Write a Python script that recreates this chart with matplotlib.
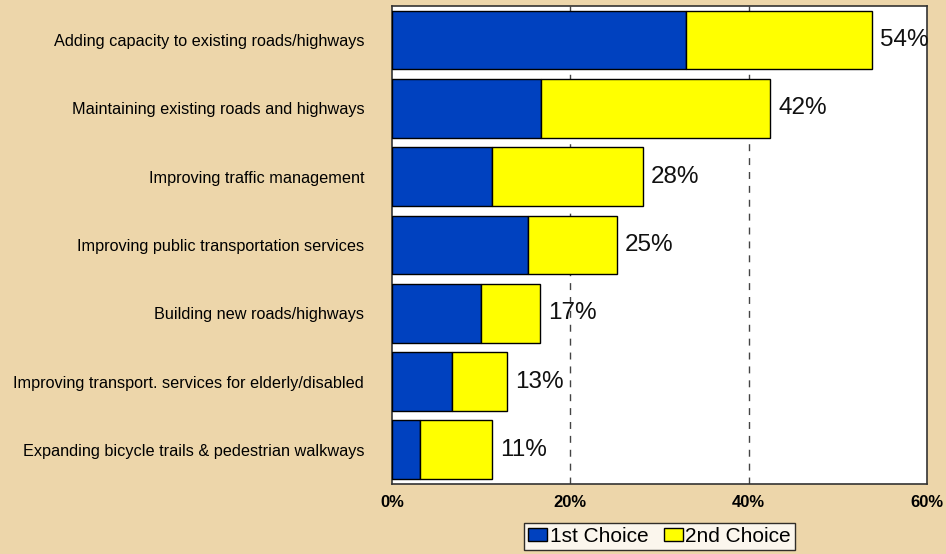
import matplotlib
matplotlib.use("Agg")
import matplotlib.pyplot as plt
from matplotlib.ticker import FuncFormatter

categories = [
    "Adding capacity to existing roads/highways",
    "Maintaining existing roads and highways",
    "Improving traffic management",
    "Improving public transportation services",
    "Building new roads/highways",
    "Improving transport. services for elderly/disabled",
    "Expanding bicycle trails & pedestrian walkways",
]
first_choice = [33.0, 16.7, 11.2, 15.3, 10.0, 6.7, 3.1]
second_choice = [20.8, 25.7, 16.9, 9.9, 6.6, 6.2, 8.1]
x_ticks = [0, 20, 40, 60]

plt.rcParams["font.family"] = ["Liberation Sans", "DejaVu Sans"]

bg = "#EDD6AA"
fig = plt.figure(figsize=(9.46, 5.54), dpi=100, facecolor=bg)
ax = fig.add_axes([0.4144, 0.1264, 0.5655, 0.8628])
ax.set_facecolor("white")

y = list(range(len(categories)))
ax.barh(y, first_choice, height=0.86, color="#0041BF", edgecolor="black",
        linewidth=1, label="1st Choice", zorder=3)
ax.barh(y, second_choice, left=first_choice, height=0.86, color="#FFFF00",
        edgecolor="black", linewidth=1, label="2nd Choice", zorder=3)

for yi, a, b in zip(y, first_choice, second_choice):
    ax.text(a + b + 0.9, yi, f"{a + b:.0f}%", va="center", ha="left",
            fontsize=17.5, color="#111111", zorder=5, clip_on=False)

ax.set_xlim(0, 60)
ax.set_ylim(len(categories) - 0.5, -0.5)
ax.set_xticks(x_ticks)
ax.xaxis.set_major_formatter(FuncFormatter(lambda v, p: f"{v:.0f}%"))
ax.set_yticks(y, categories)
for lbl in ax.get_xticklabels():
    lbl.set_fontweight("bold")
ax.tick_params(axis="x", length=0, pad=8, labelsize=12)
ax.tick_params(axis="y", length=0, pad=20, labelsize=11.7)

for xv in x_ticks[1:-1]:
    ax.axvline(xv, color="#444444", linestyle=(0, (5, 5)), linewidth=1, zorder=1)

for s in ax.spines.values():
    s.set_color("#333333")
    s.set_linewidth(1.2)

leg = ax.legend(loc="upper center", bbox_to_anchor=(0.5, -0.0816), ncol=2,
                frameon=True, fancybox=False, fontsize=15, handlelength=0.92,
                handleheight=0.6, handletextpad=0.1, columnspacing=0.75,
                borderpad=0.2, borderaxespad=0)
leg.get_frame().set_edgecolor("black")
leg.get_frame().set_linewidth(1)

plt.savefig("out.png", facecolor=bg)
plt.close()
